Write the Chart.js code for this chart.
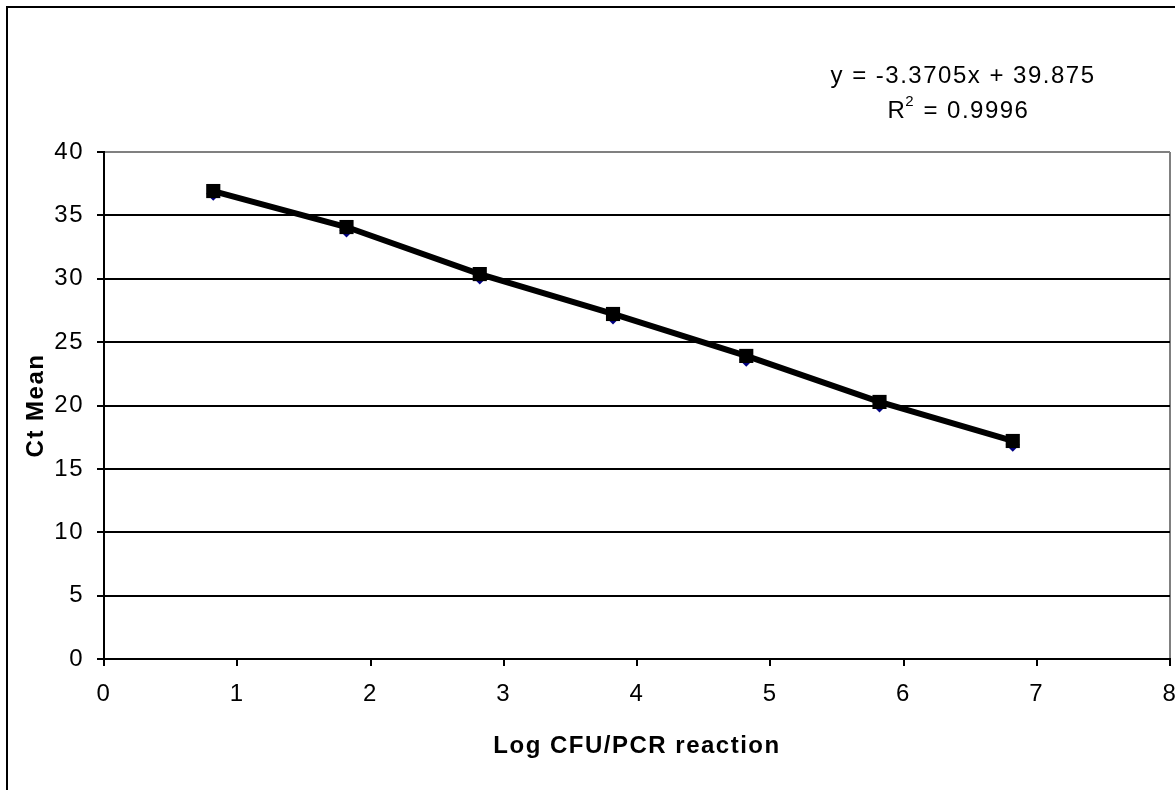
<!DOCTYPE html>
<html>
<head>
<meta charset="utf-8">
<script src="https://cdn.jsdelivr.net/npm/chart.js@4.4.1/dist/chart.umd.min.js"></script>
<style>
  html, body { margin: 0; padding: 0; background: #fff; }
  #wrap { width: 1175px; height: 790px; }
</style>
</head>
<body>
<div id="wrap"><canvas id="stdCurve" width="1175" height="790"></canvas></div>
<script>
// Standard curve data
const logCfu = [0.82, 1.82, 2.82, 3.82, 4.82, 5.82, 6.82];
const ctMeanA = [36.7, 33.8, 30.1, 26.95, 23.6, 20.0, 16.9];   // blue diamonds
const ctMeanB = [36.92, 34.08, 30.37, 27.22, 23.91, 20.28, 17.2]; // black squares + line
const xTicks = [0, 1, 2, 3, 4, 5, 6, 7, 8];
const yTicks = [0, 5, 10, 15, 20, 25, 30, 35, 40];
const equation = 'y = -3.3705x + 39.875';
const rSquared = '0.9996';

const FONT = "'Liberation Sans', Arial, sans-serif";
const SPACING = '1.5px';
const PLOT_RIGHT = 1170;

const toPoints = (xs, ys) => xs.map((x, i) => ({ x: x, y: ys[i] }));

// outer frame, letter spacing and the trendline label
const excelBits = {
  id: 'excelBits',
  afterLayout(chart) {
    // stretch the plot area to the right edge like the Excel original
    const xs = chart.scales.x;
    xs.right = PLOT_RIGHT;
    xs.width = xs.right - xs.left;
    xs.configure();
    chart.chartArea.right = PLOT_RIGHT;
    chart.chartArea.width = PLOT_RIGHT - chart.chartArea.left;
  },
  beforeDraw(chart) {
    const ctx = chart.ctx;
    ctx.letterSpacing = SPACING;
    ctx.save();
    ctx.strokeStyle = '#000';
    ctx.lineWidth = 2;
    ctx.beginPath();
    ctx.moveTo(7, 800);
    ctx.lineTo(7, 7);
    ctx.lineTo(1180, 7);
    ctx.stroke();
    ctx.restore();
  },
  afterDraw(chart) {
    const ctx = chart.ctx;
    ctx.save();
    ctx.letterSpacing = SPACING;
    ctx.fillStyle = '#000';
    ctx.font = '24px ' + FONT;
    ctx.textBaseline = 'alphabetic';
    ctx.textAlign = 'center';
    ctx.fillText(equation, 963, 83);

    // R² line, drawn in pieces for the superscript
    ctx.textAlign = 'left';
    const rest = ' = ' + rSquared;
    const wR = ctx.measureText('R').width;
    ctx.font = '15px ' + FONT;
    const w2 = ctx.measureText('2').width;
    ctx.font = '24px ' + FONT;
    const wRest = ctx.measureText(rest).width;
    let x = 959 - (wR + w2 + wRest) / 2;
    ctx.fillText('R', x, 118);
    x += wR - 1;
    ctx.font = '15px ' + FONT;
    ctx.fillText('2', x, 106);
    x += w2;
    ctx.font = '24px ' + FONT;
    ctx.fillText(rest, x, 118);
    ctx.restore();
  }
};

const ctx = document.getElementById('stdCurve').getContext('2d');
new Chart(ctx, {
  type: 'scatter',
  data: {
    datasets: [
      {
        label: 'Ct fit',
        data: toPoints(logCfu, ctMeanB),
        showLine: true,
        borderColor: '#000',
        borderWidth: 6,
        backgroundColor: '#000',
        pointStyle: 'rect',
        pointRadius: 10,
        pointBorderWidth: 0,
        order: 0
      },
      {
        label: 'Ct Mean',
        data: toPoints(logCfu, ctMeanA),
        borderColor: '#000080',
        backgroundColor: '#000080',
        pointStyle: 'rectRot',
        pointRadius: 7,
        pointBorderWidth: 0,
        order: 1
      }
    ]
  },
  options: {
    responsive: false,
    animation: false,
    events: [],
    layout: { padding: { top: 152, right: 5, left: 0, bottom: 0 } },
    plugins: {
      legend: { display: false },
      tooltip: { enabled: false }
    },
    scales: {
      x: {
        type: 'linear',
        min: 0,
        max: 8,
        afterBuildTicks(scale) {
          scale.ticks = xTicks.map(v => ({ value: v }));
        },
        afterFit(scale) {
          scale.height = 131;
        },
        grid: {
          color: c => (c.tick && c.tick.value === 8 ? '#808080' : 'rgba(0,0,0,0)'),
          tickColor: '#000',
          lineWidth: 2,
          tickLength: 7
        },
        border: { color: '#000', width: 2 },
        ticks: {
          color: '#000',
          padding: 14,
          maxRotation: 0,
          font: { family: FONT, size: 24 }
        },
        title: {
          display: true,
          text: 'Log CFU/PCR reaction',
          color: '#000',
          font: { family: FONT, size: 24, weight: 'bold' },
          padding: { top: 0, bottom: 29 }
        }
      },
      y: {
        type: 'linear',
        min: 0,
        max: 40,
        afterBuildTicks(scale) {
          scale.ticks = yTicks.map(v => ({ value: v }));
        },
        afterFit(scale) {
          scale.width = 104;
        },
        grid: {
          color: c => (c.tick && c.tick.value === 40 ? '#808080' : '#000'),
          tickColor: '#000',
          lineWidth: 2,
          tickLength: 7
        },
        border: { color: '#000', width: 2 },
        ticks: {
          color: '#000',
          padding: 13,
          font: { family: FONT, size: 24 }
        },
        title: {
          display: true,
          text: 'Ct Mean',
          color: '#000',
          font: { family: FONT, size: 24, weight: 'bold' },
          padding: { top: 22, bottom: 0 }
        }
      }
    }
  },
  plugins: [excelBits]
});
</script>
</body>
</html>
